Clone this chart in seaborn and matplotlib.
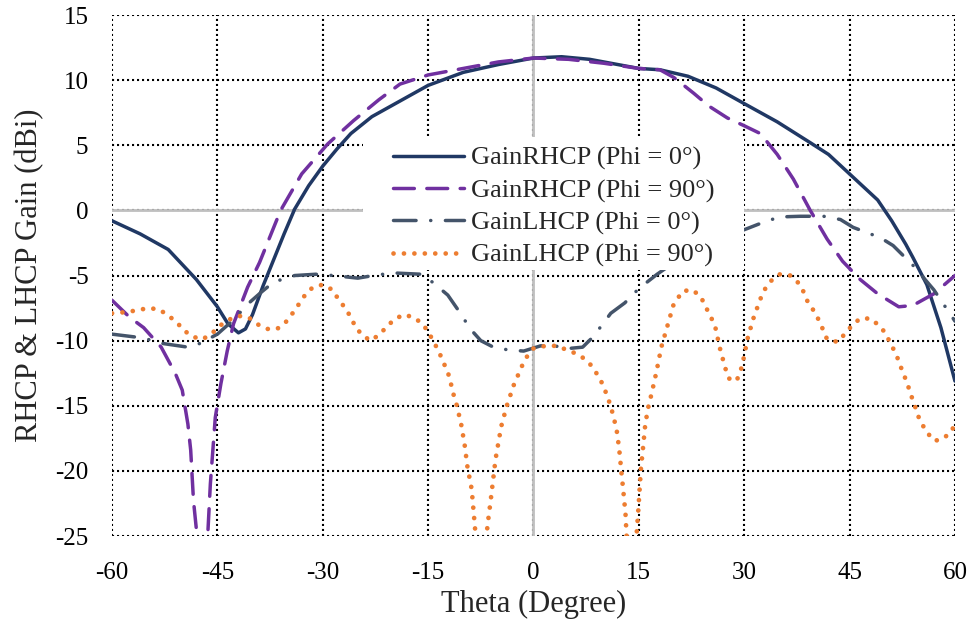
import matplotlib
matplotlib.use("Agg")
import matplotlib.pyplot as plt
from matplotlib.patches import Rectangle
import numpy as np
import pandas as pd
import seaborn as sns

# Theta (deg) / gain (dBi) for each curve
theta_rhcp0 = [-60, -56, -52, -48, -45, -43.5, -42, -41, -40, -38.5, -37, -35.5, -34, -32, -30,
               -28, -26, -23, -19, -15, -10, -5, 0, 4, 8, 12, 15, 18, 22, 26, 30, 34.7, 39.4,
               42, 45, 49, 51, 53, 54, 56, 58, 60]
gain_rhcp0 = [-0.8, -1.8, -3.0, -5.3, -7.4, -8.7, -9.4, -9.1, -8.0, -5.8, -3.8, -1.8, 0.1, 1.9, 3.4,
              4.7, 5.9, 7.2, 8.4, 9.6, 10.6, 11.2, 11.7, 11.8, 11.6, 11.2, 10.9, 10.8, 10.3, 9.4, 8.2,
              6.8, 5.2, 4.3, 2.8, 0.8, -0.8, -2.6, -3.6, -5.7, -9.0, -13.1]

theta_rhcp90 = [-60, -57.5, -55.5, -53, -51, -50, -49.2, -48.8, -48.4, -47.8, -47, -46.4, -46,
                -45.3, -44.5, -43.6, -42.7, -40.7, -39, -36, -33, -29.3, -25.6, -22, -19, -15,
                -10, -5, 0, 5, 10, 15, 18, 20, 22.8, 25, 27.6, 30, 32.3, 34.7, 37, 39.4, 41.8,
                44, 46.5, 49, 52, 54, 57, 60]
gain_rhcp90 = [-6.9, -8.2, -9.0, -10.5, -12.5, -13.8, -16.4, -18.4, -22.3, -25.5, -30, -25.2, -21,
               -15.9, -13.3, -10.8, -8.7, -5.9, -4.0, 0, 2.8, 5.1, 6.9, 8.5, 9.7, 10.4,
               10.9, 11.4, 11.7, 11.6, 11.3, 10.9, 10.8, 10.2, 9.0, 8.0, 7.1, 6.5, 5.9, 4.3, 2.4, 0,
               -2.2, -3.9, -5.3, -6.4, -7.4, -7.3, -6.4, -5.0]

theta_lhcp0 = [-60, -55.5, -53, -49.2, -47.4, -45, -42.7, -40.7, -38.8, -37, -34, -31, -28.5, -25,
               -22.8, -20, -16, -14.4, -12.2, -10.4, -9, -7.5, -5.7, -3.7, -1.4, 1, 3, 5, 7, 8.5,
               11, 13, 15, 17.6, 20, 25, 30.4, 32.3, 35, 38, 41.3, 43.7, 45.5, 49.4, 51.2, 54, 57, 60]
gain_lhcp0 = [-9.5, -9.8, -10.2, -10.5, -10.2, -9.5, -8.4, -7.2, -6.3, -5.5, -5.0, -4.9, -5.0, -5.2,
              -5.0, -4.8, -4.9, -5.5, -6.5, -7.9, -9.1, -10.0, -10.5, -10.7, -10.8, -10.4, -10.4,
              -10.6, -10.5, -9.7, -7.9, -7.1, -6.0, -4.9, -4.0, -2.5, -1.4, -1.0, -0.5, -0.45, -0.45,
              -0.7, -1.3, -2.1, -2.7, -4.2, -6.1, -8.5]

theta_lhcp90 = [-60, -57.8, -54.8, -53.3, -51.9, -50.6, -49.8, -48.5, -47.1, -45.7, -44.5, -43.4,
                -42, -40.6, -39.1, -37.9, -36.5, -35.3, -34.3, -33.4, -32.4, -31.4, -30, -28.6,
                -27.8, -26.8, -26, -25.3, -24.3, -23.2, -22.1, -20.8, -19.9, -18.5, -17.1, -15.8,
                -14.9, -14.2, -13.5, -12.8, -12.2, -11.8, -11.4, -11, -10.3, -9.8, -9.4, -8.8,
                -8.4, -8.0, -7.5, -7.0, -6.5, -6.1, -5.4, -4.6, -3.8, -2.8, -1.6, -0.9, 0, 1.7,
                3.3, 4.7, 6.1, 7.3, 8.4, 9.3, 10, 10.5, 11, 11.4, 11.8, 12.2, 12.5, 12.8, 13.1,
                13.3, 14, 14.6, 14.9, 15.1, 15.3, 15.6, 15.9, 16.3, 16.8, 17.5, 18.2, 19.2, 19.9,
                21.2, 22.6, 23.8, 24.5, 25.2, 25.9, 26.5, 27.3, 27.8, 28.9, 29.5, 29.9, 30.5, 31.3,
                32.3, 33, 34, 35.1, 36.6, 37.6, 38.4, 39.1, 39.9, 40.7, 41.8, 43.3, 44.3, 45.4,
                46.5, 48, 49.1, 50.1, 50.8, 51.5, 52.1, 52.6, 53.2, 53.6, 54.2, 54.6, 55.3, 56.1,
                57.1, 58.4, 59.6, 60]
gain_lhcp90 = [-7.9, -7.8, -7.5, -7.6, -8.1, -8.7, -9.2, -9.7, -9.9, -9.4, -8.8, -8.4,
               -8.1, -8.2, -8.8, -9.1, -9.1, -8.6, -7.9, -7.2, -6.4, -5.9, -5.7, -6.1,
               -6.8, -7.5, -8.2, -9.0, -9.6, -10.0, -9.6, -8.9, -8.4, -8.0, -8.2, -8.7,
               -9.4, -10.1, -10.8, -11.7, -12.4, -13.2, -14.1, -14.8, -16.4, -18.0, -19.7, -21.4,
               -23.9, -26.5, -30, -26.5, -24.0, -22.3, -19.1, -16.6, -15.0, -13.4, -11.9, -11.2,
               -10.6, -10.4, -10.4, -10.7, -11.0, -11.4, -12.0, -12.8, -13.5, -14.3, -15.0, -15.9,
               -16.7, -18.3, -20.0, -21.6, -23.3, -25.5, -30, -25.5, -23.2, -21.5, -19.8, -18.2,
               -16.5, -15.2, -14.1, -12.4, -10.5, -8.6, -7.3, -6.2, -6.1, -6.6, -7.4, -8.1, -9.0,
               -10.5, -12.1, -12.9, -13.1, -12.3, -11.4, -9.8, -8.3, -6.8, -6.0, -5.3, -4.9, -5.0,
               -5.5, -6.2, -7.1, -7.7, -8.5, -9.9, -10.1, -9.5, -8.8, -8.3, -8.3, -8.8, -9.4,
               -10.2, -10.9, -11.7, -12.5, -13.2, -14.0, -14.8, -15.6, -16.4, -17.1, -17.7, -17.5,
               -16.9, -16.2]

x_ticks = [-60, -45, -30, -15, 0, 15, 30, 45, 60]
y_ticks = [15, 10, 5, 0, -5, -10, -15, -20, -25]

sns.set_theme(style="white")
plt.rcParams['font.family'] = ['Liberation Serif', 'DejaVu Serif']
plt.rcParams['axes.unicode_minus'] = False

fig = plt.figure(figsize=(9.69, 6.27), dpi=100)
ax = fig.add_axes([0.1156, 0.1451, 0.8699, 0.8309])

series = [
    (theta_rhcp0, gain_rhcp0, 'GainRHCP (Phi = 0°)', '#203864', '-', 2.5),
    (theta_rhcp90, gain_rhcp90, 'GainRHCP (Phi = 90°)', '#7030A0', (0, (6, 3.6)), 2.5),
    (theta_lhcp0, gain_lhcp0, 'GainLHCP (Phi = 0°)', '#44546A', (0, (6.5, 4.2, 0.05, 4.2)), 2.5),
    (theta_lhcp90, gain_lhcp90, 'GainLHCP (Phi = 90°)', '#ED7D31', (0, (0.01, 2.2)), 3.4),
]

for th, g, lab, col, ls, lw in series:
    df = pd.DataFrame({'Theta': th, 'Gain': g})
    sns.lineplot(data=df, x='Theta', y='Gain', ax=ax, color=col, linewidth=lw,
                 label=lab, sort=False, zorder=3)
    line = ax.lines[-1]
    line.set_linestyle(ls)
    line.set_dash_capstyle('round')
    line.set_solid_capstyle('round')

ax.set_xlim(-60, 60)
ax.set_ylim(-25, 15)
ax.set_xticks(x_ticks)
ax.set_yticks(y_ticks)

# dotted black grid, no spines, grey zero axes
ax.grid(True, color='black', linestyle=(0, (1, 1.4)), linewidth=1.5)
for s in ax.spines.values():
    s.set_visible(False)
ax.axhline(0, color='#BFBFBF', linewidth=2, zorder=2)
ax.axvline(0, color='#BFBFBF', linewidth=2, zorder=2)

ax.tick_params(axis='both', length=0, labelsize=18, colors='black')
ax.tick_params(axis='x', pad=19)
ax.tick_params(axis='y', pad=17)
ax.set_xlabel('Theta (Degree)', fontsize=22, labelpad=4)
ax.set_ylabel('RHCP & LHCP Gain (dBi)', fontsize=22, labelpad=8)

# white legend area (covers grid like the original)
ax.add_patch(Rectangle((0.298, 0.511), 0.452, 0.254, transform=ax.transAxes,
                       facecolor='white', edgecolor='none', zorder=4))

leg = ax.legend(loc='upper left', bbox_to_anchor=(0.327, 0.758), fontsize=19,
                frameon=False, handlelength=2.7, handletextpad=0.27, labelspacing=0.32,
                borderpad=0.2, borderaxespad=0)
leg.set_zorder(5)

plt.savefig('out.png', dpi=100)
